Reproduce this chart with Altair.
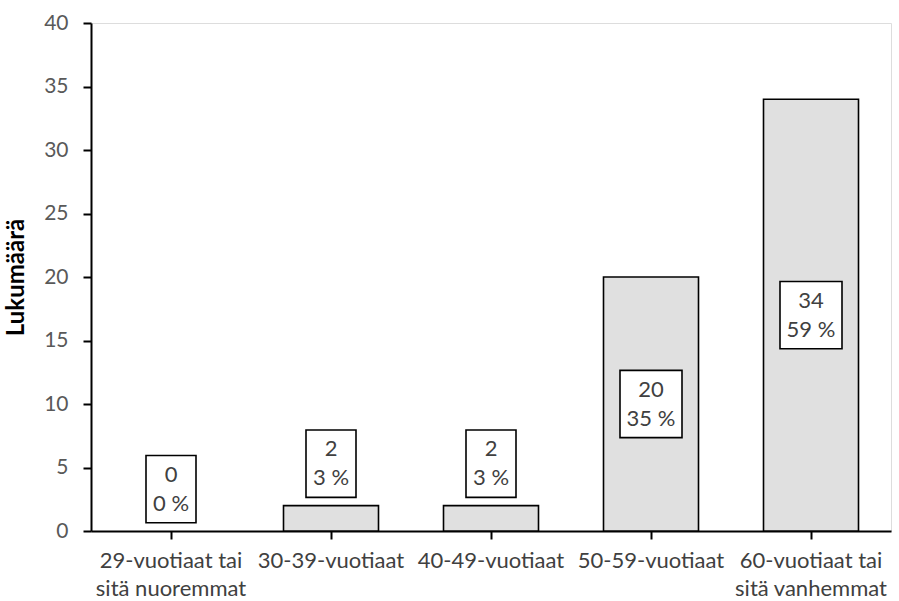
import altair as alt
import pandas as pd

# Age groups (axis label lines), counts and shares
age_groups = [
    "29-vuotiaat tai\nsitä nuoremmat",
    "30-39-vuotiaat",
    "40-49-vuotiaat",
    "50-59-vuotiaat",
    "60-vuotiaat tai\nsitä vanhemmat",
]
counts = [0, 2, 2, 20, 34]
shares = [0, 3, 3, 35, 59]

df = pd.DataFrame({"group": age_groups, "count": counts, "share": shares})
df["text"] = df["count"].astype(str) + "\n" + df["share"].astype(str) + " %"
# labels sit in the middle of tall bars, just above short ones
df["lab"] = [c / 2 if c >= 10 else c + 3.3 for c in counts]
df["lab_lo"] = df["lab"] - 2.65
df["lab_hi"] = df["lab"] + 2.65
df["boxw"] = [38 + 12 * len(str(s)) for s in shares]

FONT = "Lato"
x_enc = alt.X(
    "group:N",
    sort=None,
    title=None,
    scale=alt.Scale(domain=age_groups, paddingInner=0, paddingOuter=0),
    axis=alt.Axis(
        labelExpr="split(datum.label, '\\n')",
        labelAngle=0,
        labelFont=FONT,
        labelFontSize=22,
        labelColor="#404040",
        labelPadding=11,
        labelLineHeight=28,
        labelBaseline="top",
        domainColor="black",
        domainWidth=2,
        tickColor="black",
        tickWidth=2,
        tickSize=8,
    ),
)

y_scale = alt.Scale(domain=[0, 40], nice=False)

bars = alt.Chart(df).transform_filter("datum.count > 0").mark_bar(
    size=95, fill="#e0e0e0", stroke="black", strokeWidth=1.6
).encode(
    x=x_enc,
    y=alt.Y(
        "count:Q",
        scale=y_scale,
        title="Lukumäärä",
        axis=alt.Axis(
            values=list(range(0, 41, 5)),
            grid=False,
            labelFont=FONT,
            labelFontSize=21,
            labelColor="#595959",
            labelPadding=15,
            domainColor="black",
            domainWidth=2,
            tickColor="black",
            tickWidth=2,
            tickSize=8,
            titleFont=FONT,
            titleFontSize=24,
            titleFontWeight="bold",
            titleColor="black",
            titlePadding=15,
        ),
    ),
)

boxes = alt.Chart(df).mark_bar(
    fill="white", stroke="black", strokeWidth=1.6
).encode(
    x=alt.X("group:N", sort=None, scale=alt.Scale(domain=age_groups)),
    y=alt.Y("lab_lo:Q", scale=y_scale),
    y2="lab_hi:Q",
    size=alt.Size("boxw:Q", scale=None, legend=None),
)

texts = alt.Chart(df).mark_text(
    font=FONT, fontSize=22, lineBreak="\n", lineHeight=29, dy=-14.5,
    color="#404040", baseline="middle", align="center"
).encode(
    x=alt.X("group:N", sort=None, scale=alt.Scale(domain=age_groups)),
    y=alt.Y("lab:Q", scale=y_scale),
    text="text:N",
)

chart = (
    alt.layer(bars, boxes, texts)
    .properties(
        width=800,
        height=508,
        autosize=alt.AutoSizeParams(type="none"),
        padding={"left": 91, "top": 23, "right": 8, "bottom": 70},
    )
    .configure_view(stroke=None)
    .configure(background="white")
)

chart.save("out.html", embed_options={"renderer": "svg", "actions": False})
